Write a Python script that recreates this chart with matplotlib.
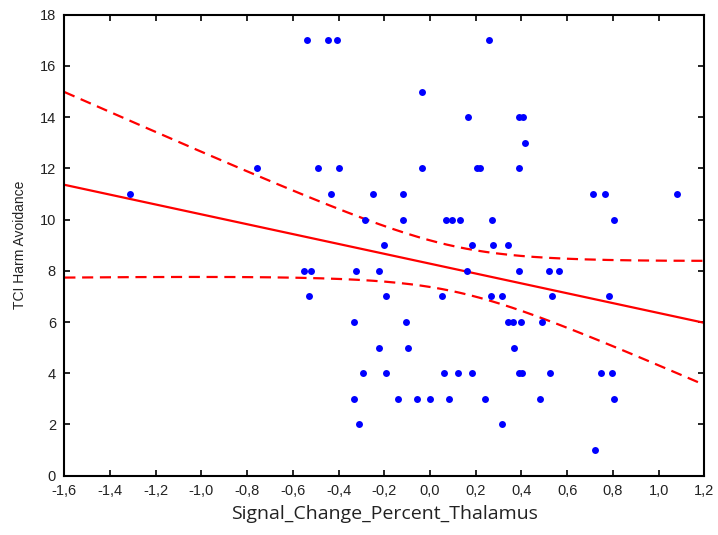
import matplotlib
matplotlib.use("Agg")
import matplotlib.pyplot as plt
import matplotlib.ticker as mticker
import numpy as np

# signal change in thalamus vs. TCI harm avoidance score
signal_change = [
    -0.540, -0.448, -0.406, 0.257,
    -0.035,
    0.165, 0.388, 0.405,
    0.414,
    -0.756, -0.490, -0.398, -0.035, 0.205, 0.218, 0.391,
    -1.311, -0.433, -0.250, -0.117, 0.714, 0.764, 1.080,
    -0.283, -0.117, 0.070, 0.098, 0.131, 0.272, 0.805,
    -0.200, 0.183, 0.274, 0.342,
    -0.553, -0.522, -0.324, -0.225, 0.160, 0.389, 0.522, 0.564,
    -0.531, -0.191, 0.051, 0.267, 0.315, 0.532, 0.781,
    -0.331, -0.107, 0.340, 0.362, 0.399, 0.490,
    -0.225, -0.098, 0.366,
    -0.292, -0.191, 0.060, 0.124, 0.183, 0.389, 0.401, 0.523, 0.747, 0.797,
    -0.331, -0.142, -0.058, 0.000, 0.083, 0.240, 0.482, 0.805,
    -0.311, 0.315,
    0.723,
]
harm_avoidance = (
    [17] * 4 + [15] * 1 + [14] * 3 + [13] * 1 + [12] * 7 + [11] * 7 + [10] * 7
    + [9] * 4 + [8] * 8 + [7] * 7 + [6] * 6 + [5] * 3 + [4] * 10 + [3] * 8
    + [2] * 2 + [1] * 1
)

x_ticks = np.arange(-1.6, 1.21, 0.2)
y_ticks = np.arange(0, 19, 2)

x = np.array(signal_change)
y = np.array(harm_avoidance, dtype=float)

# least squares fit with 95% confidence band of the mean
n = len(x)
slope, intercept = np.polyfit(x, y, 1)
resid = y - (slope * x + intercept)
s = np.sqrt(np.sum(resid ** 2) / (n - 2))
sxx = np.sum((x - x.mean()) ** 2)
t_crit = 1.991  # t(0.975, df=77)

xs = np.linspace(-1.6, 1.2, 200)
fit = slope * xs + intercept
half = t_crit * s * np.sqrt(1.0 / n + (xs - x.mean()) ** 2 / sxx)

fig = plt.figure(figsize=(7.18, 5.35), dpi=100)
ax = fig.add_axes([0.0896, 0.1108, 0.8914, 0.8617])

ax.plot(xs, fit, color="#ff0000", lw=1.6, zorder=2)
ax.plot(xs, fit + half, color="#ff0000", lw=1.6, ls=(0, (5, 3)), zorder=2)
ax.plot(xs, fit - half, color="#ff0000", lw=1.6, ls=(0, (5, 3)), zorder=2)
ax.plot(x, y, "o", color="#0000ff", ms=5, mec="none", zorder=3)

ax.set_xlim(-1.6, 1.2)
ax.set_ylim(0, 18)
ax.set_xticks(x_ticks)
ax.set_yticks(y_ticks)
ax.xaxis.set_major_formatter(mticker.FuncFormatter(
    lambda v, p: f"{v:.1f}".replace(".", ",").replace("-0,0", "0,0")))

for lab in ax.get_xticklabels() + ax.get_yticklabels():
    lab.set_fontfamily("Liberation Sans")
    lab.set_fontsize(10.5)
    lab.set_color("#222222")

ax.tick_params(direction="in", length=4, width=1.2, top=True, right=True,
               pad=6)
for sp in ax.spines.values():
    sp.set_linewidth(1.5)
    sp.set_color("black")

ax.set_xlabel("Signal_Change_Percent_Thalamus", fontfamily="Open Sans",
              fontsize=14, color="#222222", labelpad=5)
ax.set_ylabel("TCI Harm Avoidance", fontfamily="Liberation Sans",
              fontsize=10, color="#222222", labelpad=9)

fig.savefig("out.png", dpi=100)
